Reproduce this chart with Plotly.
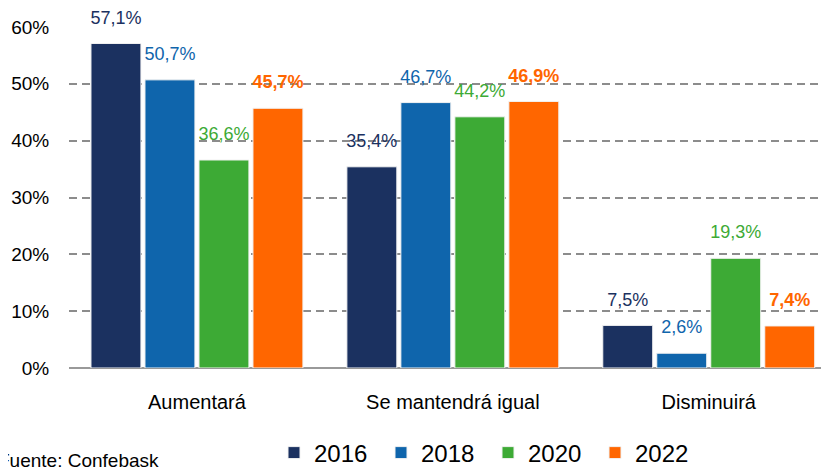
import plotly.graph_objects as go

categories = ["Aumentará", "Se mantendrá igual", "Disminuirá"]
years = ["2016", "2018", "2020", "2022"]
values = {
    "2016": [57.1, 35.4, 7.5],
    "2018": [50.7, 46.7, 2.6],
    "2020": [36.6, 44.2, 19.3],
    "2022": [45.7, 46.9, 7.4],
}
colors = {"2016": "#1B3160", "2018": "#0F65AC", "2020": "#3DAA35", "2022": "#FF6600"}
tick_vals = [0, 10, 20, 30, 40, 50, 60]
tick_text = ["0%", "10%", "20%", "30%", "40%", "50%", "60%"]
source = "Fuente: Confebask"

FONT = "Liberation Sans, Arial, sans-serif"
GAP = 0.156

fig = go.Figure()
for y in years:
    fig.add_trace(go.Bar(
        name=y, x=categories, y=values[y], offsetgroup=y,
        marker=dict(color=colors[y], line=dict(color="#f2f2f2", width=1)),
        hoverinfo="skip",
    ))
for y in years:
    bold = y == "2022"
    labels = [("%.1f%%" % v).replace(".", ",") for v in values[y]]
    if bold:
        labels = ["<b>%s</b>" % t for t in labels]
    fig.add_trace(go.Scatter(
        x=categories, y=values[y], offsetgroup=y, mode="markers+text",
        marker=dict(size=23, opacity=0), text=labels, textposition="top center",
        textfont=dict(color=colors[y], size=18, family=FONT),
        showlegend=False, cliponaxis=False, hoverinfo="skip",
    ))

fig.update_layout(
    width=829, height=468,
    margin=dict(l=61, r=8, t=19, b=108, autoexpand=False),
    plot_bgcolor="white", paper_bgcolor="white",
    barmode="group", bargap=GAP, bargroupgap=0.075,
    scattermode="group", scattergap=GAP,
    font=dict(family=FONT, color="#000000"),
    xaxis=dict(range=[-0.5, 2.47], showgrid=False, showline=False, ticks="outside",
               ticklen=16, tickcolor="white",
               tickfont=dict(size=20, family=FONT)),
    yaxis=dict(range=[0, 60], tickvals=tick_vals, ticktext=tick_text,
               showgrid=True, gridcolor="#8c8c8c", griddash="8px,5px", gridwidth=1.5,
               zeroline=True, zerolinecolor="#999999", zerolinewidth=1.5,
               tickfont=dict(size=19, family=FONT), ticklen=15, ticks="outside",
               tickcolor="white"),
    legend=dict(orientation="h", xref="container", x=266 / 829, xanchor="left",
                yref="container", y=(468 - 445) / 468, yanchor="middle",
                font=dict(size=24, family=FONT), entrywidth=62, entrywidthmode="pixels",
                itemwidth=30, tracegroupgap=0),
    showlegend=True,
)
fig.add_annotation(text=source, xref="paper", yref="paper", x=-0.0965, y=-0.27,
                   xanchor="left", yanchor="middle", showarrow=False,
                   font=dict(size=19, family=FONT, color="#000000"))
fig.write_html("out.html")
